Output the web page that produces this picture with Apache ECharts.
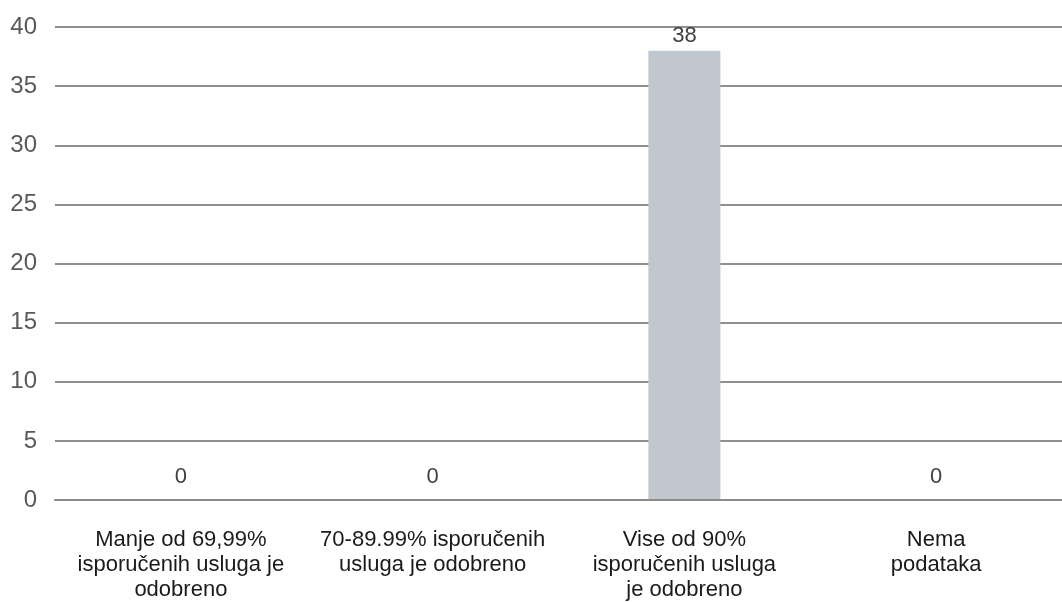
<!DOCTYPE html>
<html>
<head>
<meta charset="utf-8">
<style>
  html, body { margin: 0; padding: 0; background: #ffffff; }
  #chart { width: 1062px; height: 602px; }
</style>
<script src="https://cdn.jsdelivr.net/npm/echarts@6/dist/echarts.min.js"></script>
</head>
<body>
<div id="chart"></div>
<script>
// Categories (tick labels, wrapped as they are printed under the axis)
const categories = [
  'Manje od 69,99%\nisporučenih usluga je\nodobreno',
  '70-89.99% isporučenih\nusluga je odobreno',
  'Vise od 90%\nisporučenih usluga\nje odobreno',
  'Nema\npodataka'
];
// Number of cases per category
const counts = [0, 0, 38, 0];
// Value axis range
const yMin = 0;
const yMax = 40;
const yStep = 5;

const FONT = '"Liberation Sans", Arial, sans-serif';

const chart = echarts.init(document.getElementById('chart'), null, { renderer: 'canvas' });

const barData = counts.map(v => ({
  value: v,
  // zero-height bars keep their labels a little higher above the baseline
  label: { distance: v === 0 ? 12 : 4 }
}));

chart.setOption({
  animation: false,
  backgroundColor: '#ffffff',
  grid: { left: 55, right: 0, top: 27, bottom: 100, containLabel: false },
  xAxis: {
    type: 'category',
    data: categories,
    z: 3,
    axisLine: { show: true, lineStyle: { color: '#8a8a8a', width: 2 } },
    axisTick: { show: false },
    axisLabel: {
      color: '#1a1a1a',
      fontFamily: FONT,
      fontSize: 22,
      lineHeight: 25,
      margin: 27,
      interval: 0,
      align: 'center'
    }
  },
  yAxis: {
    type: 'value',
    min: yMin,
    max: yMax,
    interval: yStep,
    axisLine: { show: false },
    axisTick: { show: false },
    axisLabel: {
      color: '#595959',
      fontFamily: FONT,
      fontSize: 24,
      margin: 18
    },
    splitLine: { show: true, lineStyle: { color: '#8f8f8f', width: 2 } }
  },
  series: [{
    type: 'bar',
    data: barData,
    barWidth: 72,
    itemStyle: { color: '#c0c7ce' },
    label: {
      show: true,
      position: 'top',
      color: '#404040',
      fontFamily: FONT,
      fontSize: 22
    }
  }]
});
</script>
</body>
</html>
